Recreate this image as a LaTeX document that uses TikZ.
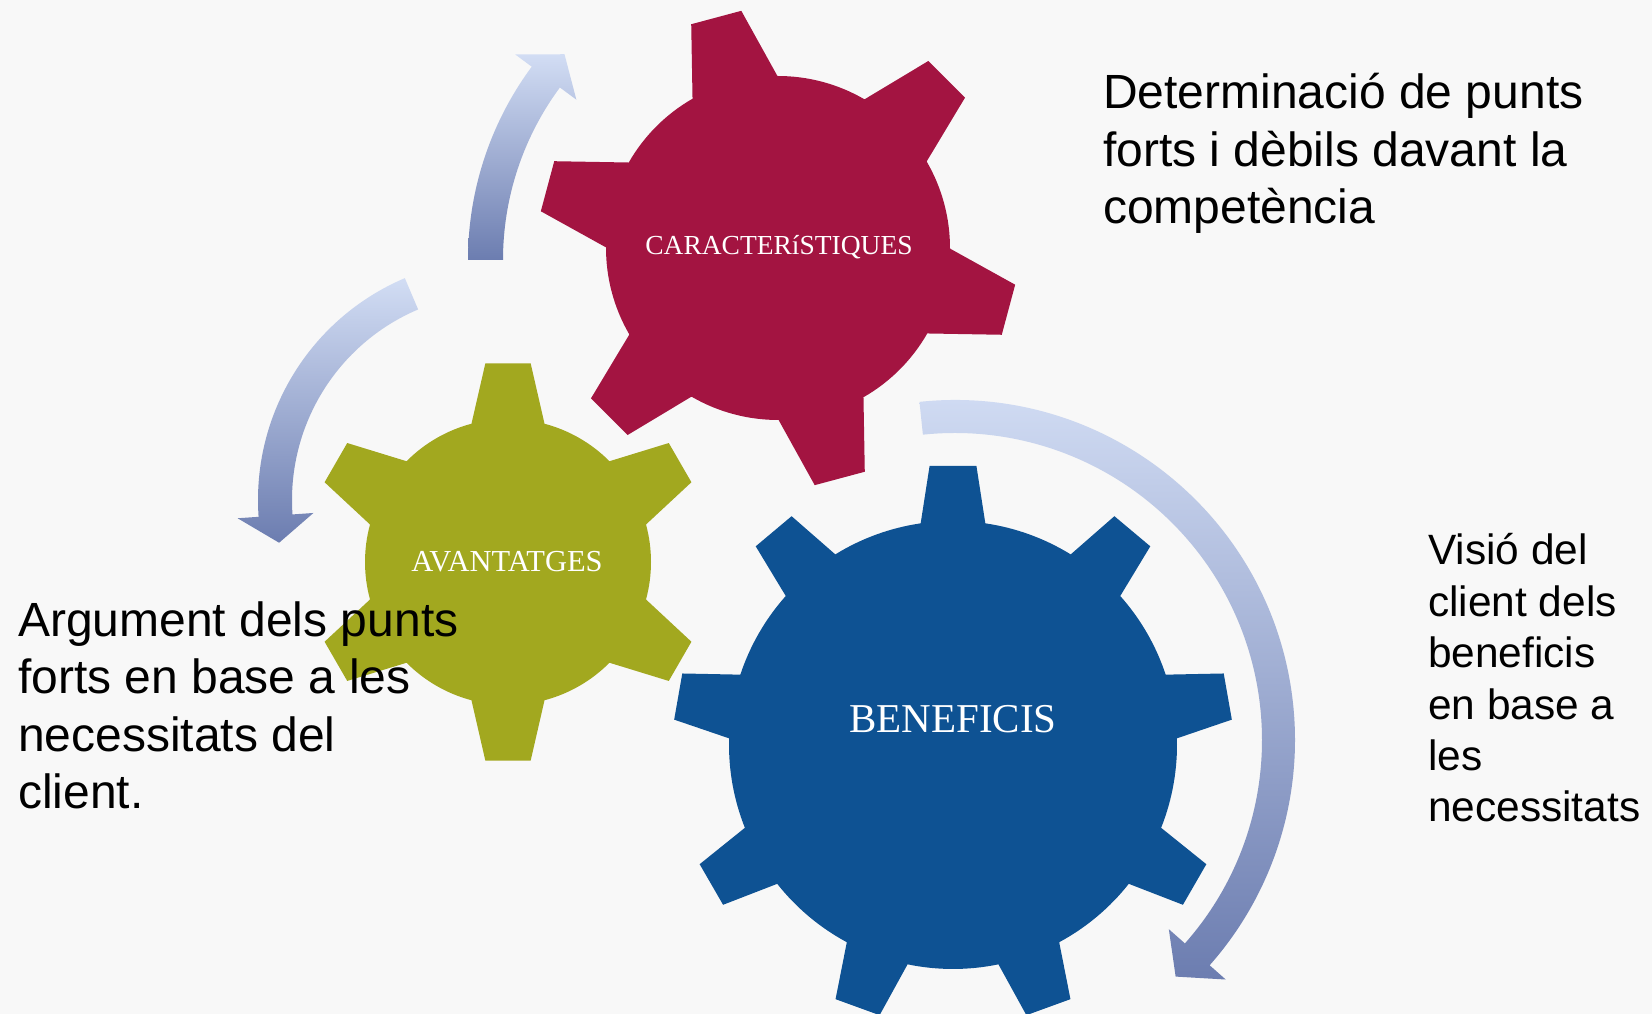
\documentclass[tikz,border=0pt]{standalone}
\usepackage{fontspec}
\setmainfont{Liberation Serif}
\newfontfamily\arialfont{Liberation Sans}
\usepackage{tikz}

\definecolor{bgcol}{RGB}{248,248,248}
\definecolor{caractcol}{RGB}{163,20,65}
\definecolor{avantcol}{RGB}{162,168,31}
\definecolor{beneficol}{RGB}{14,82,147}
\definecolor{arrowlight}{RGB}{210,221,244}
\definecolor{arrowdark}{RGB}{108,125,176}

\tikzset{
  arrowband/.style={top color=arrowlight, bottom color=arrowdark},
  gearlabel/.style={text=white, inner sep=0pt, anchor=base},
  note/.style={font=\arialfont\fontsize{48}{57.5}\selectfont, align=left, inner sep=0pt, anchor=base west}
}

% 齿轮: #1 颜色 #2 中心 #3 齿数 #4 起始角 #5 内半径 #6 外半径 #7 齿顶半角 #8 齿根半角
\newcommand{\gear}[8]{%
  \begin{scope}[shift={#2}]
    \fill[#1] ({#4-#8}:#5)
      \foreach \k [evaluate=\k as \a using {#4+(\k-1)*360/#3}] in {1,...,#3} {
        -- ({\a-#7}:#6) -- ({\a+#7}:#6) -- ({\a+#8}:#5)
        arc[start angle={\a+#8}, end angle={\a+360/#3-#8}, radius=#5]
      } -- cycle;
  \end{scope}}

% 弧形箭头: #1 中心 #2 内半径 #3 外半径 #4 尾部角 #5 箭头根部角 #6 箭尖角 #7 箭头半宽
\newcommand{\arcarrow}[7]{%
  \begin{scope}[shift={#1}]
    \shade[arrowband] (#4:#3) arc[start angle=#4, end angle=#5, radius=#3]
      -- (#5:{(#2+#3)/2+#7}) -- (#6:{(#2+#3)/2}) -- (#5:{(#2+#3)/2-#7})
      -- (#5:#2) arc[start angle=#5, end angle=#4, radius=#2] -- cycle;
  \end{scope}}

\begin{document}
\begin{tikzpicture}[x=1pt, y=1pt]
    % 背景
    \fill[bgcol] (0,0) rectangle (1652,1014);
    \useasboundingbox (0,0) rectangle (1652,1014);

    % 三个弧形箭头
    \arcarrow{(793,754)}{290}{325}{180}{143.5}{138}{38}
    \arcarrow{(499,514)}{207}{241}{113}{184}{191}{38}
    \arcarrow{(955,274)}{307}{340}{96}{-41.5}{-47}{38}

    % 三个齿轮
    \gear{avantcol}{(508,452)}{6}{30}{143}{200}{6.5}{14.8}
    \gear{caractcol}{(778,766)}{6}{45}{172}{240}{6.2}{14.8}
    \gear{beneficol}{(953,269)}{9}{90}{224}{280}{4.8}{8.3}

    % 齿轮上的文字
    \node[gearlabel, font=\fontsize{27.5}{30}\selectfont] (caract) at (779,759) {CARACTERíSTIQUES};
    \node[gearlabel, font=\fontsize{30.5}{33}\selectfont] (avant) at (507,442) {AVANTATGES};
    \node[gearlabel, font=\fontsize{41}{44}\selectfont] (benef) at (953,281) {BENEFICIS};

    % 说明文字 (锚点在最后一行的基线上)
    \node[note] (determ) at (1103,790) {Determinació de punts\\forts i dèbils davant la\\competència};
    \node[note] (argum) at (18,205) {Argument dels punts\\forts en base a les\\necessitats del\\client.};
    \node[note, font=\arialfont\fontsize{42.4}{51.4}\selectfont] (visio) at (1428,192) {Visió del\\client dels\\beneficis\\en base a\\les\\necessitats};
\end{tikzpicture}
\end{document}
